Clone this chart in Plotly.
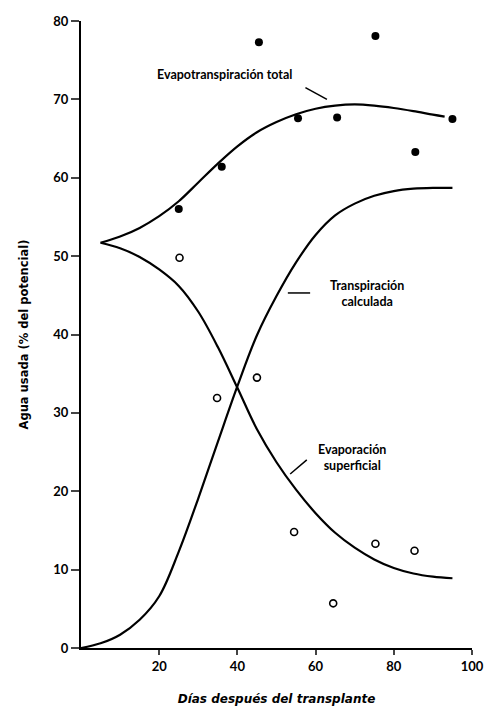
import plotly.graph_objects as go

# ---- data ----
days_filled = [25, 36, 45.5, 55.5, 65.5, 75.3, 85.5, 95]
et_observed = [56.0, 61.4, 77.3, 67.6, 67.7, 78.1, 63.3, 67.5]

days_open = [25.2, 34.8, 45, 54.5, 64.5, 75.3, 85.3]
evap_observed = [49.8, 31.9, 34.5, 14.8, 5.7, 13.3, 12.4]

# fitted curves, every 5 days
et_curve_x = [5, 10, 15, 20, 25, 30, 35, 40, 45, 50, 55, 60, 65, 70, 75, 80, 85, 90, 93]
et_curve_y = [51.7, 52.5, 53.6, 55.1, 57.0, 59.4, 61.8, 64.0, 65.8, 67.1, 68.1, 68.8, 69.2, 69.35,
              69.2, 68.9, 68.5, 68.05, 67.8]

tr_curve_x = [0, 5, 10, 15, 20, 25, 30, 35, 40, 45, 50, 55, 60, 65, 70, 75, 80, 85, 90, 95]
tr_curve_y = [0, 0.6, 1.7, 3.6, 6.6, 12.3, 19.1, 26.3, 33.4, 39.9, 44.9, 49.2, 52.7, 55.2, 56.7,
              57.7, 58.3, 58.6, 58.7, 58.7]

ev_curve_x = [5, 10, 15, 20, 25, 30, 35, 40, 45, 50, 55, 60, 65, 70, 75, 80, 85, 90, 95]
ev_curve_y = [51.7, 51.0, 49.9, 48.3, 46.2, 42.9, 38.4, 33.2, 27.9, 23.7, 20.2, 17.2, 14.7, 12.8,
              11.3, 10.2, 9.5, 9.1, 8.9]

x_ticks = [20, 40, 60, 80, 100]
y_ticks = [0, 10, 20, 30, 40, 50, 60, 70, 80]

labels = ["Evapotranspiración total", "Transpiración<br>calculada", "Evaporación<br>superficial"]

LAB_FONT = "Lato"
AX_FONT = "DejaVu Sans"
fig = go.Figure()

line_style = dict(color="black", width=2.2, shape="spline", smoothing=1.0)
fig.add_trace(go.Scatter(x=et_curve_x, y=et_curve_y, mode="lines", line=line_style, showlegend=False))
fig.add_trace(go.Scatter(x=tr_curve_x, y=tr_curve_y, mode="lines", line=line_style, showlegend=False))
fig.add_trace(go.Scatter(x=ev_curve_x, y=ev_curve_y, mode="lines", line=line_style, showlegend=False))

fig.add_trace(go.Scatter(x=days_filled, y=et_observed, mode="markers",
                         marker=dict(color="black", size=8, line=dict(width=0)), showlegend=False))
fig.add_trace(go.Scatter(x=days_open, y=evap_observed, mode="markers",
                         marker=dict(color="white", size=7, line=dict(color="black", width=1.6)),
                         showlegend=False))

# labels
lab_font = dict(family=LAB_FONT, size=12.5, color="black", weight=700)
fig.add_annotation(x=36.8, y=73.2, text=labels[0], showarrow=False, font=lab_font)
fig.add_annotation(x=73.2, y=45.2, text=labels[1], showarrow=False, font=lab_font)
fig.add_annotation(x=69.2, y=24.3, text=labels[2], showarrow=False, font=lab_font)

# leader lines
for (x0, y0, x1, y1) in [(57.4, 71.5, 62.9, 70.0), (52.9, 45.3, 58.6, 45.3), (53.5, 22.2, 57.75, 24.0)]:
    fig.add_shape(type="line", x0=x0, y0=y0, x1=x1, y1=y1, xref="x", yref="y",
                  line=dict(color="black", width=1.5))

fig.update_xaxes(range=[0, 100], tickvals=x_ticks, ticks="outside", ticklen=5, tickwidth=1.5,
                 showline=True, linecolor="black", linewidth=2, showgrid=False, zeroline=False,
                 tickfont=dict(family=LAB_FONT, size=13, color="black", weight=700),
                 title=dict(text="<i>Días después del transplante</i>",
                            font=dict(family=AX_FONT, size=12, color="black", weight=700), standoff=22))
fig.update_yaxes(range=[0, 80], tickvals=y_ticks, ticks="outside", ticklen=8, tickwidth=1.5,
                 showline=True, linecolor="black", linewidth=2, showgrid=False, zeroline=False,
                 tickfont=dict(family=LAB_FONT, size=13, color="black", weight=700),
                 title=dict(text="Agua usada (% del potencial)",
                            font=dict(family=AX_FONT, size=11.5, color="black", weight=700), standoff=22))

fig.update_layout(width=496, height=716, margin=dict(l=81, r=16, t=21, b=63),
                  paper_bgcolor="white", plot_bgcolor="white")

fig.write_html("out.html", config={"displayModeBar": False},
               post_script="document.body.style.margin='0';document.body.style.overflow='hidden';")
